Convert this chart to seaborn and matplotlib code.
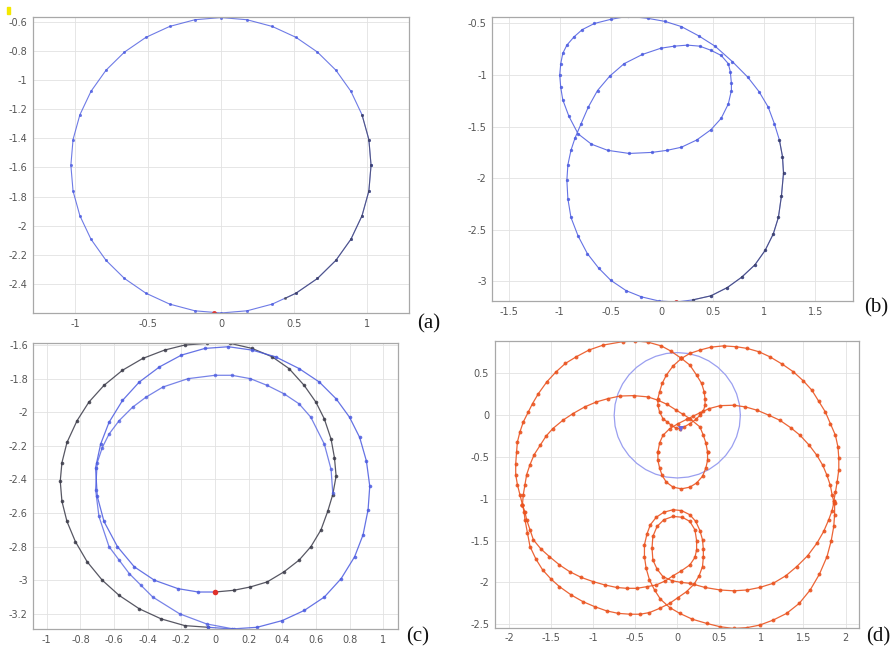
import numpy as np
import matplotlib
matplotlib.use("Agg")
import matplotlib.pyplot as plt
import seaborn as sns

# ---------------- data ----------------
# (a) single orbit, blue with a dark stretch on the lower right
a_orbit = [(1.03, -1.585), (1.015, -1.408), (0.968, -1.238), (0.892, -1.077), (0.789, -0.932),
           (0.662, -0.807), (0.515, -0.706), (0.352, -0.631), (0.179, -0.585), (0.0, -0.570),
           (-0.179, -0.585), (-0.352, -0.631), (-0.515, -0.706), (-0.662, -0.807), (-0.789, -0.932),
           (-0.892, -1.077), (-0.968, -1.238), (-1.015, -1.408), (-1.03, -1.585), (-1.015, -1.762),
           (-0.968, -1.932), (-0.892, -2.093), (-0.789, -2.238), (-0.662, -2.363), (-0.515, -2.464),
           (-0.352, -2.539), (-0.179, -2.585), (0.0, -2.600), (0.179, -2.585), (0.352, -2.539),
           (0.515, -2.464), (0.662, -2.363), (0.789, -2.238), (0.892, -2.093), (0.968, -1.932),
           (1.015, -1.762), (1.03, -1.585)]
a_dark = [(0.968, -1.238), (1.015, -1.408), (1.03, -1.585), (1.015, -1.762), (0.968, -1.932),
          (0.892, -2.093), (0.789, -2.238), (0.662, -2.363), (0.515, -2.464), (0.44, -2.50)]
a_start = (-0.05, -2.60)

# (b) orbit with an inner loop
b_orbit = [(0.14, -3.20), (0.30, -3.18), (0.48, -3.14), (0.64, -3.06), (0.78, -2.96), (0.91, -2.84),
           (1.01, -2.70), (1.09, -2.54), (1.14, -2.38), (1.17, -2.17), (1.19, -1.95), (1.18, -1.79),
           (1.15, -1.63), (1.10, -1.47), (1.04, -1.31), (0.95, -1.16), (0.84, -1.02), (0.69, -0.87),
           (0.52, -0.72), (0.36, -0.62), (0.19, -0.53), (0.03, -0.48), (-0.14, -0.45), (-0.33, -0.43),
           (-0.50, -0.46), (-0.66, -0.50), (-0.78, -0.56), (-0.86, -0.63), (-0.93, -0.71), (-0.97, -0.79),
           (-0.99, -0.89), (-1.00, -1.00), (-0.99, -1.12), (-0.97, -1.24), (-0.91, -1.40), (-0.82, -1.57),
           (-0.69, -1.67), (-0.53, -1.73), (-0.32, -1.76), (-0.10, -1.75), (0.05, -1.73), (0.19, -1.70),
           (0.34, -1.63), (0.48, -1.53), (0.58, -1.42), (0.65, -1.28), (0.68, -1.15), (0.68, -1.08),
           (0.67, -0.97), (0.65, -0.89), (0.58, -0.81), (0.48, -0.76), (0.37, -0.72), (0.25, -0.71),
           (0.12, -0.72), (-0.01, -0.74), (-0.19, -0.80), (-0.37, -0.89), (-0.51, -1.01), (-0.63, -1.15),
           (-0.72, -1.31), (-0.79, -1.47), (-0.85, -1.61), (-0.89, -1.73), (-0.92, -1.87), (-0.93, -2.02),
           (-0.92, -2.20), (-0.89, -2.38), (-0.82, -2.56), (-0.73, -2.73), (-0.62, -2.87), (-0.50, -2.99),
           (-0.35, -3.09), (-0.20, -3.15), (-0.03, -3.19), (0.14, -3.20)]
b_dark = [(0.30, -3.18), (0.48, -3.14), (0.64, -3.06), (0.78, -2.96), (0.91, -2.84), (1.01, -2.70),
          (1.09, -2.54), (1.14, -2.38), (1.17, -2.17), (1.19, -1.95), (1.18, -1.79), (1.15, -1.63)]
b_start = (0.14, -3.20)

# (c) three nested loops, first lap dark
c_dark = [(0.00, -3.07), (0.11, -3.06), (0.21, -3.04), (0.31, -3.01), (0.41, -2.95), (0.50, -2.88),
          (0.57, -2.80), (0.63, -2.70), (0.67, -2.59), (0.70, -2.49), (0.72, -2.38), (0.71, -2.27),
          (0.69, -2.16), (0.65, -2.04), (0.60, -1.94), (0.53, -1.84), (0.44, -1.74), (0.34, -1.67),
          (0.22, -1.62), (0.09, -1.59), (-0.05, -1.59), (-0.18, -1.60), (-0.30, -1.63), (-0.43, -1.68),
          (-0.55, -1.75), (-0.66, -1.84), (-0.75, -1.94), (-0.82, -2.05), (-0.88, -2.18), (-0.91, -2.30),
          (-0.92, -2.41), (-0.91, -2.53), (-0.88, -2.65), (-0.83, -2.77), (-0.76, -2.89), (-0.67, -3.00),
          (-0.57, -3.09), (-0.45, -3.17), (-0.32, -3.23), (-0.18, -3.27), (-0.04, -3.28)]
c_mid = [(-0.04, -3.28), (0.10, -3.29), (0.25, -3.28), (0.40, -3.24), (0.53, -3.18), (0.65, -3.10),
         (0.75, -2.99), (0.83, -2.86), (0.88, -2.73), (0.91, -2.58), (0.92, -2.44), (0.90, -2.29),
         (0.86, -2.15), (0.80, -2.03), (0.72, -1.92), (0.62, -1.82), (0.50, -1.74), (0.36, -1.67),
         (0.22, -1.63), (0.08, -1.61), (-0.06, -1.62), (-0.20, -1.66), (-0.33, -1.73), (-0.45, -1.82),
         (-0.55, -1.93), (-0.63, -2.06), (-0.68, -2.19), (-0.71, -2.33), (-0.70, -2.50), (-0.66, -2.65),
         (-0.58, -2.80), (-0.48, -2.92), (-0.36, -3.00), (-0.22, -3.05), (-0.10, -3.07), (0.00, -3.07)]
c_inner = [(0.70, -2.48), (0.69, -2.34), (0.65, -2.19), (0.57, -2.03), (0.50, -1.95), (0.41, -1.89),
           (0.31, -1.84), (0.21, -1.80), (0.10, -1.78), (0.00, -1.78), (-0.16, -1.80), (-0.31, -1.85),
           (-0.41, -1.91), (-0.49, -1.97), (-0.57, -2.05), (-0.63, -2.13), (-0.67, -2.21), (-0.70, -2.30),
           (-0.71, -2.46), (-0.69, -2.62), (-0.63, -2.80), (-0.57, -2.88), (-0.51, -2.96), (-0.44, -3.03),
           (-0.37, -3.10), (-0.21, -3.20), (-0.05, -3.26), (0.11, -3.29)]
c_start = (0.00, -3.07)

# (d) trajectory pieces and the reference circle
d_outer_left = [(0.05, 0.68), (-0.08, 0.77), (-0.19, 0.83), (-0.35, 0.875), (-0.50, 0.89), (-0.65, 0.88),
                (-0.88, 0.84), (-1.05, 0.78), (-1.20, 0.70), (-1.33, 0.62), (-1.44, 0.52), (-1.55, 0.40),
                (-1.65, 0.26), (-1.72, 0.14), (-1.77, 0.04), (-1.83, -0.08), (-1.87, -0.20), (-1.90, -0.32),
                (-1.91, -0.44), (-1.92, -0.58), (-1.92, -0.71), (-1.90, -0.83), (-1.87, -0.95), (-1.84, -1.07)]
d_outer_right = [(0.05, 0.68), (0.15, 0.74), (0.27, 0.78), (0.40, 0.815), (0.55, 0.83), (0.70, 0.82),
                 (0.83, 0.80), (0.97, 0.76), (1.10, 0.70), (1.25, 0.61), (1.38, 0.52), (1.50, 0.41),
                 (1.60, 0.30), (1.68, 0.17), (1.76, 0.04), (1.82, -0.10), (1.88, -0.24), (1.91, -0.38),
                 (1.92, -0.51), (1.92, -0.65), (1.90, -0.80), (1.88, -0.92), (1.86, -1.03)]
d_upper_loop = [(0.05, 0.68), (0.15, 0.60), (0.23, 0.48), (0.29, 0.38), (0.32, 0.28), (0.33, 0.20),
                (0.33, 0.12), (0.31, 0.05), (0.27, 0.00), (0.22, -0.05), (0.15, -0.10), (0.08, -0.14),
                (0.03, -0.16), (-0.02, -0.15), (-0.07, -0.12), (-0.12, -0.08), (-0.17, -0.04), (-0.21, 0.04),
                (-0.23, 0.12), (-0.23, 0.20), (-0.21, 0.28), (-0.18, 0.38), (-0.13, 0.48), (-0.05, 0.59),
                (0.05, 0.68)]
d_lower_loop = [(-0.23, -0.44), (-0.23, -0.54), (-0.21, -0.63), (-0.18, -0.72), (-0.13, -0.80),
                (-0.05, -0.86), (0.05, -0.88), (0.15, -0.86), (0.23, -0.81), (0.30, -0.73), (0.34, -0.63),
                (0.36, -0.54), (0.36, -0.44)]
d_inner_left = [(0.36, -0.44), (0.34, -0.33), (0.31, -0.24), (0.27, -0.14), (0.15, -0.04), (0.07, 0.01),
                (-0.01, 0.06), (-0.12, 0.13), (-0.23, 0.18), (-0.35, 0.22), (-0.52, 0.235), (-0.68, 0.23),
                (-0.82, 0.20), (-0.96, 0.16), (-1.10, 0.10), (-1.24, 0.02), (-1.36, -0.06), (-1.48, -0.16),
                (-1.56, -0.25), (-1.63, -0.36), (-1.70, -0.47), (-1.75, -0.59), (-1.79, -0.71), (-1.81, -0.83),
                (-1.83, -0.95), (-1.84, -1.07)]
d_inner_right = [(-0.23, -0.44), (-0.21, -0.33), (-0.17, -0.24), (-0.09, -0.16), (0.01, -0.10), (0.11, -0.05),
                 (0.19, -0.01), (0.27, 0.03), (0.38, 0.08), (0.51, 0.115), (0.67, 0.12), (0.81, 0.10),
                 (0.95, 0.06), (1.09, 0.00), (1.22, -0.06), (1.35, -0.15), (1.46, -0.24), (1.57, -0.36),
                 (1.66, -0.48), (1.73, -0.60), (1.78, -0.72), (1.82, -0.84), (1.84, -0.95), (1.86, -1.03)]
d_bottom_inner = [(-1.84, -1.07), (-1.81, -1.16), (-1.79, -1.25), (-1.75, -1.37), (-1.71, -1.49),
                  (-1.62, -1.60), (-1.52, -1.69), (-1.40, -1.79), (-1.28, -1.87), (-1.14, -1.94),
                  (-1.00, -1.99), (-0.86, -2.03), (-0.72, -2.06), (-0.60, -2.07), (-0.48, -2.07),
                  (-0.36, -2.05), (-0.25, -2.03), (-0.14, -1.98), (-0.05, -1.92), (0.05, -1.86),
                  (0.15, -1.79), (0.21, -1.70), (0.23, -1.61), (0.23, -1.50), (0.21, -1.37), (0.15, -1.27),
                  (0.06, -1.22), (-0.05, -1.21), (-0.16, -1.25), (-0.24, -1.33), (-0.29, -1.45),
                  (-0.30, -1.59), (-0.29, -1.73), (-0.24, -1.84), (-0.17, -1.93), (-0.06, -1.98),
                  (0.05, -2.00), (0.15, -2.01), (0.33, -2.06), (0.51, -2.09), (0.67, -2.10), (0.83, -2.09),
                  (0.98, -2.06), (1.14, -2.01), (1.29, -1.92), (1.42, -1.81), (1.55, -1.68), (1.66, -1.53),
                  (1.74, -1.39), (1.80, -1.25), (1.84, -1.14), (1.86, -1.05)]
d_bottom_outer = [(-1.84, -1.07), (-1.82, -1.16), (-1.81, -1.25), (-1.78, -1.41), (-1.75, -1.57),
                  (-1.68, -1.72), (-1.60, -1.85), (-1.50, -1.96), (-1.40, -2.05), (-1.26, -2.15),
                  (-1.12, -2.23), (-0.98, -2.29), (-0.84, -2.34), (-0.70, -2.37), (-0.56, -2.38),
                  (-0.44, -2.38), (-0.33, -2.36), (-0.21, -2.31), (-0.09, -2.25), (0.01, -2.18),
                  (0.11, -2.11), (0.20, -2.02), (0.26, -1.92), (0.30, -1.81), (0.31, -1.70), (0.31, -1.60),
                  (0.30, -1.49), (0.27, -1.38), (0.22, -1.27), (0.15, -1.19), (0.05, -1.14), (-0.05, -1.13),
                  (-0.16, -1.16), (-0.25, -1.22), (-0.32, -1.31), (-0.36, -1.42), (-0.39, -1.55),
                  (-0.39, -1.69), (-0.37, -1.83), (-0.33, -1.97), (-0.27, -2.09), (-0.20, -2.20),
                  (-0.09, -2.30), (0.03, -2.37), (0.18, -2.44), (0.35, -2.49), (0.51, -2.53), (0.67, -2.55),
                  (0.83, -2.54), (0.98, -2.51), (1.14, -2.45), (1.30, -2.37), (1.45, -2.25), (1.58, -2.09),
                  (1.69, -1.90), (1.78, -1.69), (1.83, -1.50), (1.86, -1.33), (1.87, -1.19), (1.87, -1.05)]
d_circle = [(0.75, 0.0), (0.739, 0.130), (0.705, 0.257), (0.650, 0.375), (0.575, 0.482), (0.482, 0.575),
            (0.375, 0.650), (0.257, 0.705), (0.130, 0.739), (0.0, 0.75), (-0.130, 0.739), (-0.257, 0.705),
            (-0.375, 0.650), (-0.482, 0.575), (-0.575, 0.482), (-0.650, 0.375), (-0.705, 0.257),
            (-0.739, 0.130), (-0.75, 0.0), (-0.739, -0.130), (-0.705, -0.257), (-0.650, -0.375),
            (-0.575, -0.482), (-0.482, -0.575), (-0.375, -0.650), (-0.257, -0.705), (-0.130, -0.739),
            (0.0, -0.75), (0.130, -0.739), (0.257, -0.705), (0.375, -0.650), (0.482, -0.575),
            (0.575, -0.482), (0.650, -0.375), (0.705, -0.257), (0.739, -0.130), (0.75, 0.0)]
d_center = (0.04, -0.16)

# axis ticks / labels for the four panels
a_xticks = [-1, -0.5, 0, 0.5, 1]
a_yticks = [-0.6, -0.8, -1, -1.2, -1.4, -1.6, -1.8, -2, -2.2, -2.4]
b_xticks = [-1.5, -1, -0.5, 0, 0.5, 1, 1.5]
b_yticks = [-0.5, -1, -1.5, -2, -2.5, -3]
c_xticks = [-1, -0.8, -0.6, -0.4, -0.2, 0, 0.2, 0.4, 0.6, 0.8, 1]
c_yticks = [-1.6, -1.8, -2, -2.2, -2.4, -2.6, -2.8, -3, -3.2]
d_xticks = [-2, -1.5, -1, -0.5, 0, 0.5, 1, 1.5, 2]
d_yticks = [0.5, 0, -0.5, -1, -1.5, -2, -2.5]
panel_labels = ["(a)", "(b)", "(c)", "(d)"]

BLUE = "#4a5ae0"
DARK = "#3a3a48"
RED = "#e0302a"
ORANGE = "#ea5420"
LIGHTBLUE = "#9a9ff0"

sns.set_theme(style="whitegrid")
plt.rcParams["font.family"] = ["DejaVu Sans"]

fig = plt.figure(figsize=(8.96, 6.53), dpi=100)
fig.patch.set_facecolor("white")


def setup(ax, xlim, ylim, xt, yt):
    ax.set_xlim(*xlim)
    ax.set_ylim(*ylim)
    ax.set_xticks(xt)
    ax.set_yticks(yt)
    ax.set_xticklabels(["%g" % v for v in xt])
    ax.set_yticklabels(["%g" % v for v in yt])
    ax.set_facecolor("white")
    ax.grid(True, color="#e2e2e2", lw=0.6)
    for s in ax.spines.values():
        s.set_color("#a8a8a8")
        s.set_linewidth(0.9)
    ax.tick_params(direction="in", length=3, width=0.6, color="#9a9a9a",
                   labelsize=7, labelcolor="#555555", pad=4)
    ax.set_xlabel("")
    ax.set_ylabel("")


def trace(ax, pts, color, lw=0.9, ms=2.6, alpha=1.0):
    arr = np.array(pts)
    sns.lineplot(x=arr[:, 0], y=arr[:, 1], sort=False, estimator=None, ax=ax,
                 color=color, lw=lw, marker="o", markersize=ms, markeredgewidth=0, alpha=alpha)


# (a)
ax = fig.add_axes([0.0368, 0.5207, 0.4196, 0.4533])
trace(ax, a_orbit, BLUE, lw=0.8, ms=2.2, alpha=0.8)
trace(ax, a_dark, DARK, lw=0.8, ms=2.2, alpha=0.6)
ax.plot(*a_start, "o", color=RED, ms=3.5, mew=0)
setup(ax, (-1.29, 1.29), (-2.6, -0.566), a_xticks, a_yticks)

# (b)
ax = fig.add_axes([0.5494, 0.5391, 0.4026, 0.4354])
trace(ax, b_orbit, BLUE, lw=0.8, ms=2.4, alpha=0.85)
trace(ax, b_dark, DARK, lw=0.8, ms=2.4, alpha=0.6)
ax.plot(*b_start, "o", color=RED, ms=3.5, mew=0)
setup(ax, (-1.66, 1.87), (-3.19, -0.434), b_xticks, b_yticks)

# (c)
ax = fig.add_axes([0.0372, 0.0368, 0.4074, 0.4384])
trace(ax, c_dark, DARK, lw=0.9, ms=2.6, alpha=0.85)
trace(ax, c_mid, BLUE, lw=0.9, ms=2.6, alpha=0.85)
trace(ax, c_inner, BLUE, lw=0.9, ms=2.6, alpha=0.75)
ax.plot(*c_start, "o", color=RED, ms=4, mew=0)
setup(ax, (-1.08, 1.09), (-3.29, -1.586), c_xticks, c_yticks)

# (d)
ax = fig.add_axes([0.5521, 0.0389, 0.4066, 0.4391])
arr = np.array(d_circle)
sns.lineplot(x=arr[:, 0], y=arr[:, 1], sort=False, estimator=None, ax=ax, color=LIGHTBLUE, lw=0.9)
for piece in [d_outer_left, d_outer_right, d_upper_loop, d_lower_loop, d_inner_left,
              d_inner_right, d_bottom_inner, d_bottom_outer]:
    trace(ax, piece, ORANGE, lw=0.9, ms=2.8, alpha=0.9)
ax.plot(*d_center, "v", color="#6a6ae0", ms=4, mew=0)
setup(ax, (-2.17, 2.16), (-2.54, 0.89), d_xticks, d_yticks)

# panel letters
for lab, (px, py) in zip(panel_labels, [(429, 324), (876, 308), (418, 637), (878, 637)]):
    fig.text(px / 896, 1 - py / 653, lab, ha="center", va="center",
             fontsize=15, family="Liberation Serif", color="#111111")

# small yellow mark in the corner of the scan
fig.patches.append(matplotlib.patches.Rectangle((7 / 896, 1 - 14 / 653), 3 / 896, 7 / 653,
                                                transform=fig.transFigure, color="#f4e800"))

fig.savefig("out.png", dpi=100, facecolor="white")
